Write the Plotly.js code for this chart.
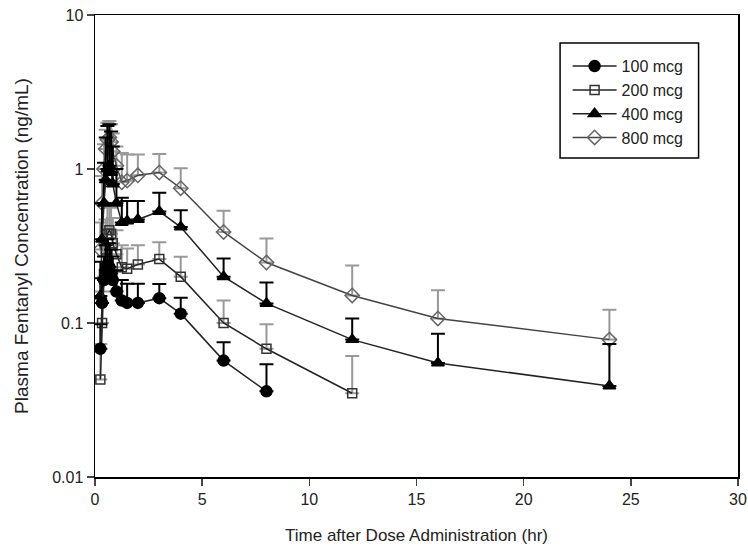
<!DOCTYPE html>
<html>
<head>
<meta charset="utf-8">
<script src="https://cdn.plot.ly/plotly-3.0.1.min.js"></script>
<style>html,body{margin:0;padding:0;background:#fff;}#chart{width:748px;height:554px;}</style>
</head>
<body>
<div id="chart"></div>
<script>
// Sampling times (hr)
var timeHr = [0.25, 0.33, 0.42, 0.5, 0.58, 0.67, 0.75, 0.83, 1, 1.25, 1.5, 2, 3, 4, 6, 8, 12, 16, 24];

// Mean plasma fentanyl concentration (ng/mL) and upper SD
var conc100 = [0.068, 0.135, 0.19, 0.22, 0.24, 0.23, 0.21, 0.19, 0.16, 0.14, 0.135, 0.135, 0.145, 0.115, 0.057, 0.036];
var err100  = [0.03, 0.06, 0.08, 0.1, 0.11, 0.1, 0.09, 0.08, 0.06, 0.05, 0.045, 0.045, 0.034, 0.031, 0.018, 0.018];

var conc200 = [0.043, 0.10, 0.2, 0.3, 0.38, 0.4, 0.38, 0.33, 0.28, 0.23, 0.225, 0.24, 0.26, 0.2, 0.1, 0.068, 0.035];
var err200  = [0.03, 0.06, 0.12, 0.17, 0.2, 0.2, 0.18, 0.15, 0.12, 0.09, 0.08, 0.08, 0.075, 0.069, 0.04, 0.03, 0.026];

var conc400 = [0.15, 0.35, 0.6, 0.85, 1.0, 1.05, 0.95, 0.8, 0.6, 0.45, 0.46, 0.47, 0.53, 0.42, 0.2, 0.134, 0.078, 0.055, 0.039];
var err400  = [0.1, 0.25, 0.5, 0.75, 0.9, 0.9, 0.8, 0.6, 0.4, 0.2, 0.16, 0.15, 0.17, 0.12, 0.062, 0.049, 0.029, 0.03, 0.034];

var conc800 = [0.3, 0.6, 1.0, 1.35, 1.55, 1.6, 1.5, 1.3, 1.05, 0.82, 0.84, 0.91, 0.95, 0.75, 0.39, 0.247, 0.151, 0.107, 0.078];
var err800  = [0.15, 0.3, 0.45, 0.45, 0.45, 0.45, 0.45, 0.4, 0.35, 0.45, 0.4, 0.33, 0.3, 0.26, 0.145, 0.107, 0.085, 0.056, 0.044];

var seriesNames = ['100 mcg', '200 mcg', '400 mcg', '800 mcg'];
var yTickVals = [0.01, 0.1, 1, 10];
var yTickText = ['0.01', '0.1', '1', '10'];
var xTickVals = [0, 5, 10, 15, 20, 25, 30];

function zeros(n){ var a=[]; for(var i=0;i<n;i++) a.push(0); return a; }

function mk(name, conc, err, sym, size, mcolor, lcolor, ecolor, rank, fill){
  return {
    type: 'scatter', mode: 'lines+markers', name: name, legendrank: rank,
    x: timeHr.slice(0, conc.length), y: conc,
    line: {color: lcolor, width: 1.5},
    marker: {symbol: sym, size: size, color: fill, line: {color: mcolor, width: 1.5}},
    error_y: {type: 'data', symmetric: false, array: err, arrayminus: zeros(err.length),
              color: ecolor, thickness: 2, width: 7}
  };
}

var data = [
  mk(seriesNames[3], conc800, err800, 'diamond-open', 11, '#666', '#444', '#999', 4, '#666'),
  mk(seriesNames[1], conc200, err200, 'square-open', 9, '#333', '#222', '#999', 2, '#333'),
  mk(seriesNames[2], conc400, err400, 'triangle-up', 11, '#000', '#222', '#000', 3, '#000'),
  mk(seriesNames[0], conc100, err100, 'circle', 11, '#000', '#222', '#000', 1, '#000')
];

var layout = {
  width: 748, height: 554,
  margin: {l: 95, r: 10, t: 15, b: 77},
  paper_bgcolor: '#fff', plot_bgcolor: '#fff',
  font: {family: 'Liberation Sans, Arial, sans-serif', size: 16, color: '#222'},
  showlegend: true,
  legend: {x: 0.735, y: 0.926, xanchor: 'left', yanchor: 'top',
           borderwidth: 0, bgcolor: 'rgba(0,0,0,0)',
           font: {size: 16, color: '#222'}, itemwidth: 44, tracegroupgap: 0},
  shapes: [{type: 'rect', xref: 'paper', yref: 'paper',
            x0: 0.7233, x1: 0.9387, y0: 0.6905, y1: 0.9394,
            line: {color: '#000', width: 1.5}, fillcolor: 'rgba(0,0,0,0)', layer: 'above'}],
  xaxis: {range: [0, 30], tickvals: xTickVals, ticks: 'outside', ticklen: 7, tickwidth: 1.5,
          showline: true, linecolor: '#000', linewidth: 1.5, mirror: true,
          showgrid: false, zeroline: false, ticklabeloverflow: 'allow',
          tickfont: {size: 16, color: '#222'},
          title: {text: 'Time after Dose Administration (hr)', font: {size: 17, color: '#222'}, standoff: 22}},
  yaxis: {type: 'log', range: [-2, 1], tickvals: yTickVals, ticktext: yTickText,
          ticks: 'outside', ticklen: 7, tickwidth: 1.5,
          showline: true, linecolor: '#000', linewidth: 1.5, mirror: true,
          showgrid: false, zeroline: false,
          tickfont: {size: 16, color: '#222'},
          title: {text: 'Plasma Fentanyl Concentration (ng/mL)', font: {size: 19, color: '#222'}, standoff: 18}}
};

Plotly.newPlot('chart', data, layout, {displayModeBar: false, staticPlot: true});
</script>
</body>
</html>
